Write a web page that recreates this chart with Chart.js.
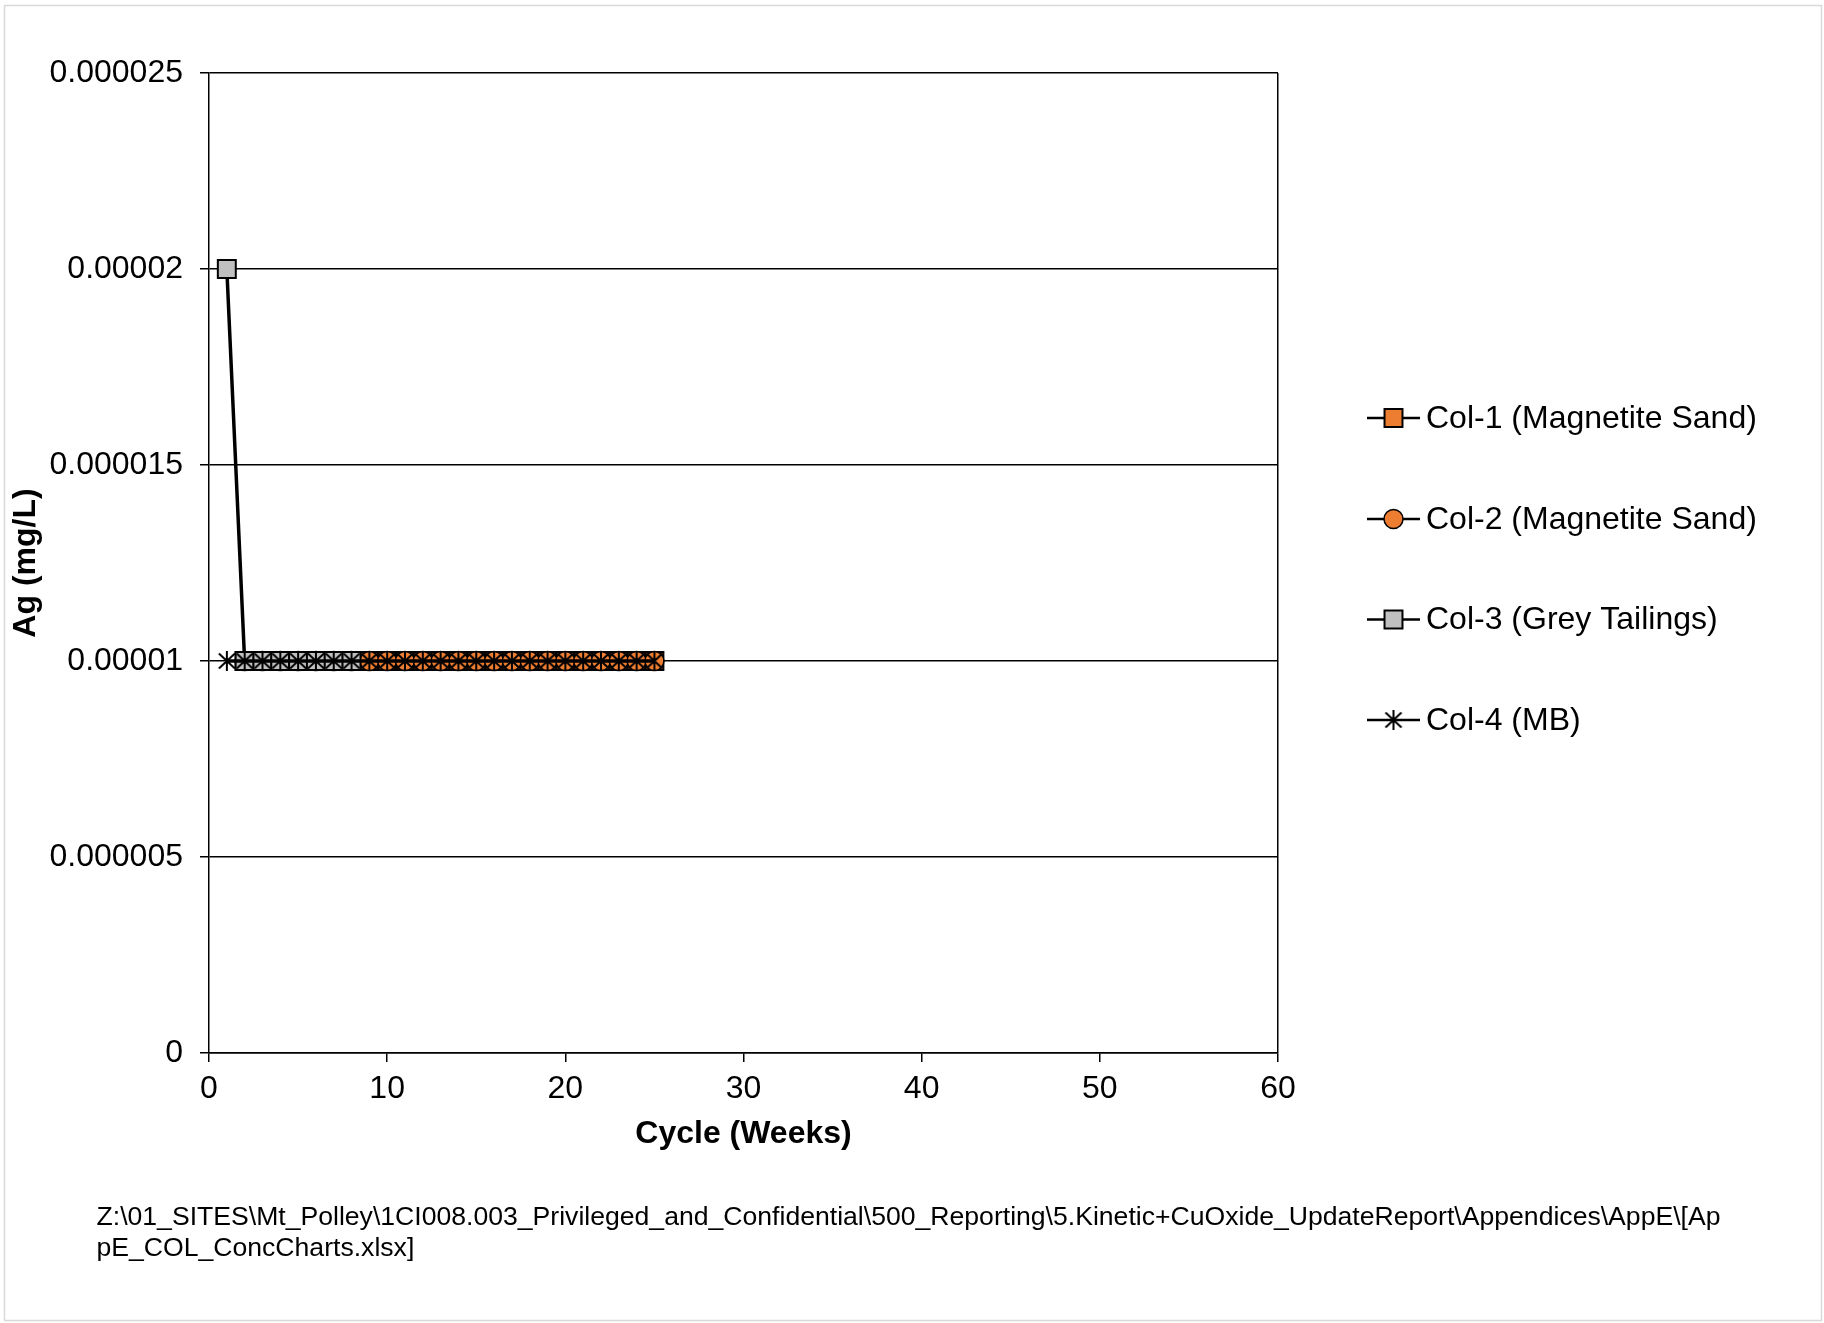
<!DOCTYPE html>
<html>
<head>
<meta charset="utf-8">
<script src="https://cdn.jsdelivr.net/npm/chart.js@4/dist/chart.umd.min.js"></script>
<style>
  html, body { margin: 0; padding: 0; background: #ffffff; }
  #wrap { position: relative; width: 1824px; height: 1323px; }
  canvas { display: block; }
</style>
</head>
<body>
<div id="wrap"><canvas id="chart" width="1824" height="1323"></canvas></div>
<script>
// Ag concentration in column leachate, by cycle (week)
const seriesNames = [
  'Col-1 (Magnetite Sand)',
  'Col-2 (Magnetite Sand)',
  'Col-3 (Grey Tailings)',
  'Col-4 (MB)'
];

const col1Weeks = [2, 3, 4, 5, 6, 7, 8, 9, 10, 11, 12, 13, 14, 15, 16, 17, 18, 19, 20, 21, 22, 23, 24, 25];
const col1Ag = [0.00001, 0.00001, 0.00001, 0.00001, 0.00001, 0.00001, 0.00001, 0.00001, 0.00001, 0.00001, 0.00001, 0.00001,
                0.00001, 0.00001, 0.00001, 0.00001, 0.00001, 0.00001, 0.00001, 0.00001, 0.00001, 0.00001, 0.00001, 0.00001];

const col2Weeks = [2, 3, 4, 5, 6, 7, 8, 9, 10, 11, 12, 13, 14, 15, 16, 17, 18, 19, 20, 21, 22, 23, 24, 25];
const col2Ag = [0.00001, 0.00001, 0.00001, 0.00001, 0.00001, 0.00001, 0.00001, 0.00001, 0.00001, 0.00001, 0.00001, 0.00001,
                0.00001, 0.00001, 0.00001, 0.00001, 0.00001, 0.00001, 0.00001, 0.00001, 0.00001, 0.00001, 0.00001, 0.00001];

const col3Weeks = [1, 2, 3, 4, 5, 6, 7, 8];
const col3Ag = [0.00002, 0.00001, 0.00001, 0.00001, 0.00001, 0.00001, 0.00001, 0.00001];

const col4Weeks = [1, 2, 3, 4, 5, 6, 7, 8, 9, 10, 11, 12, 13, 14, 15, 16, 17, 18, 19, 20, 21, 22, 23, 24, 25];
const col4Ag = [0.00001, 0.00001, 0.00001, 0.00001, 0.00001, 0.00001, 0.00001, 0.00001, 0.00001, 0.00001, 0.00001, 0.00001, 0.00001,
                0.00001, 0.00001, 0.00001, 0.00001, 0.00001, 0.00001, 0.00001, 0.00001, 0.00001, 0.00001, 0.00001, 0.00001];

const xTickValues = [0, 10, 20, 30, 40, 50, 60];
const yTickValues = [0, 0.000005, 0.00001, 0.000015, 0.00002, 0.000025];
const yTickLabels = ['0', '0.000005', '0.00001', '0.000015', '0.00002', '0.000025'];

const xTitle = 'Cycle (Weeks)';
const yTitle = 'Ag (mg/L)';
const footerLines = [
  'Z:\\01_SITES\\Mt_Polley\\1CI008.003_Privileged_and_Confidential\\500_Reporting\\5.Kinetic+CuOxide_UpdateReport\\Appendices\\AppE\\[Ap',
  'pE_COL_ConcCharts.xlsx]'
];

const FONT = "'Liberation Sans', Arial, Helvetica, sans-serif";
const ORANGE = '#ED7D31';
const GREY = '#C0C0C0';

function pairs(xs, ys) {
  return xs.map((x, i) => ({ x: x, y: ys[i] }));
}

// asterisk marker: vertical stroke plus an X
function makeStar() {
  const c = document.createElement('canvas');
  c.width = 22; c.height = 22;
  const g = c.getContext('2d');
  g.strokeStyle = '#000';
  g.lineWidth = 2;
  g.beginPath();
  g.moveTo(11, 1); g.lineTo(11, 21);
  g.moveTo(3, 3.5); g.lineTo(19, 18.5);
  g.moveTo(19, 3.5); g.lineTo(3, 18.5);
  g.stroke();
  return c;
}
const starMarker = makeStar();

const datasets = [
  {
    label: seriesNames[0], data: pairs(col1Weeks, col1Ag), order: 3,
    borderColor: '#000', borderWidth: 3.5,
    pointStyle: 'rect', pointRadius: 12.7, pointBackgroundColor: ORANGE,
    pointBorderColor: '#000', pointBorderWidth: 2
  },
  {
    label: seriesNames[1], data: pairs(col2Weeks, col2Ag), order: 2,
    borderColor: '#000', borderWidth: 3.5,
    pointStyle: 'circle', pointRadius: 9.5, pointBackgroundColor: ORANGE,
    pointBorderColor: '#000', pointBorderWidth: 1.5
  },
  {
    label: seriesNames[2], data: pairs(col3Weeks, col3Ag), order: 1,
    borderColor: '#000', borderWidth: 3.5,
    pointStyle: 'rect', pointRadius: 12.7, pointBackgroundColor: GREY,
    pointBorderColor: '#000', pointBorderWidth: 2
  },
  {
    label: seriesNames[3], data: pairs(col4Weeks, col4Ag), order: 0,
    borderColor: '#000', borderWidth: 3.5,
    pointStyle: starMarker, pointRadius: 11,
    pointBorderColor: '#000', pointBackgroundColor: '#000'
  }
];

// outer frame of the chart sheet
const framePlugin = {
  id: 'frame',
  beforeDraw(chart) {
    const ctx = chart.ctx;
    ctx.save();
    ctx.fillStyle = '#ffffff';
    ctx.fillRect(0, 0, chart.width, chart.height);
    ctx.strokeStyle = '#d9d9d9';
    ctx.lineWidth = 1.5;
    ctx.strokeRect(4.5, 5.5, 1817, 1315);
    ctx.restore();
  }
};

// legend on the right: short line with the series marker, then the name
const sideLegend = {
  id: 'sideLegend',
  afterDraw(chart) {
    const ctx = chart.ctx;
    const x0 = 1367, x1 = 1420, mx = 1393.5, tx = 1426;
    const rowY = [418, 519, 619.5, 720];
    ctx.save();
    chart.data.datasets.forEach((ds, i) => {
      const y = rowY[i];
      ctx.strokeStyle = '#000';
      ctx.lineWidth = 2.5;
      ctx.beginPath();
      ctx.moveTo(x0, y); ctx.lineTo(x1, y);
      ctx.stroke();
      if (ds.pointStyle instanceof HTMLCanvasElement) {
        ctx.drawImage(ds.pointStyle, mx - ds.pointStyle.width / 2, y - ds.pointStyle.height / 2);
      } else {
        ctx.fillStyle = ds.pointBackgroundColor;
        ctx.strokeStyle = ds.pointBorderColor;
        ctx.lineWidth = ds.pointBorderWidth;
        Chart.helpers.drawPoint(ctx, {
          pointStyle: ds.pointStyle, radius: ds.pointRadius, rotation: 0,
          borderWidth: ds.pointBorderWidth
        }, mx, y);
      }
      ctx.fillStyle = '#000';
      ctx.font = '32px ' + FONT;
      ctx.textAlign = 'left';
      ctx.textBaseline = 'middle';
      ctx.fillText(ds.label, tx, y + 1);
    });
    ctx.restore();
  }
};

// source path printed under the chart
const footerPlugin = {
  id: 'footer',
  afterDraw(chart) {
    const ctx = chart.ctx;
    ctx.save();
    ctx.fillStyle = '#000';
    ctx.font = '26.6px ' + FONT;
    ctx.textAlign = 'left';
    ctx.textBaseline = 'middle';
    ctx.fillText(footerLines[0], 96.5, 1218);
    ctx.fillText(footerLines[1], 96.5, 1249);
    ctx.restore();
  }
};

new Chart(document.getElementById('chart'), {
  type: 'line',
  data: { datasets: datasets },
  plugins: [framePlugin, sideLegend, footerPlugin],
  options: {
    responsive: false,
    animation: false,
    devicePixelRatio: 1,
    events: [],
    layout: { padding: { left: 0, top: 73, right: 546, bottom: 0 } },
    plugins: {
      legend: { display: false },
      tooltip: { enabled: false }
    },
    elements: { line: { tension: 0 } },
    scales: {
      x: {
        type: 'linear',
        min: 0, max: 60,
        afterBuildTicks(scale) { scale.ticks = xTickValues.map(v => ({ value: v })); },
        afterFit(scale) { scale.height = 270; },
        ticks: {
          color: '#000', padding: 8, maxRotation: 0,
          font: { family: FONT, size: 32 },
          callback: (v) => String(v)
        },
        grid: {
          drawOnChartArea: true,
          color: (c) => (c.tick && c.tick.value === 60) ? '#000' : 'rgba(0,0,0,0)',
          lineWidth: 1.5,
          tickColor: '#000',
          tickLength: 9
        },
        border: { display: true, color: '#000', width: 1.5 },
        title: {
          display: true, text: xTitle, color: '#000',
          font: { family: FONT, size: 32, weight: 'bold' },
          padding: { top: 0, bottom: 170 }
        }
      },
      y: {
        type: 'linear',
        min: 0, max: 0.000025,
        afterBuildTicks(scale) { scale.ticks = yTickValues.map(v => ({ value: v })); },
        afterFit(scale) { scale.width = 209; },
        ticks: {
          color: '#000', padding: 17,
          font: { family: FONT, size: 32 },
          callback: (v, i) => yTickLabels[i]
        },
        grid: {
          color: '#000',
          lineWidth: 1.5,
          tickColor: '#000',
          tickLength: 9
        },
        border: { display: true, color: '#000', width: 1.5 },
        title: {
          display: true, text: yTitle, color: '#000',
          font: { family: FONT, size: 32, weight: 'bold' },
          padding: { top: 7, bottom: 0 }
        }
      }
    }
  }
});
</script>
</body>
</html>
